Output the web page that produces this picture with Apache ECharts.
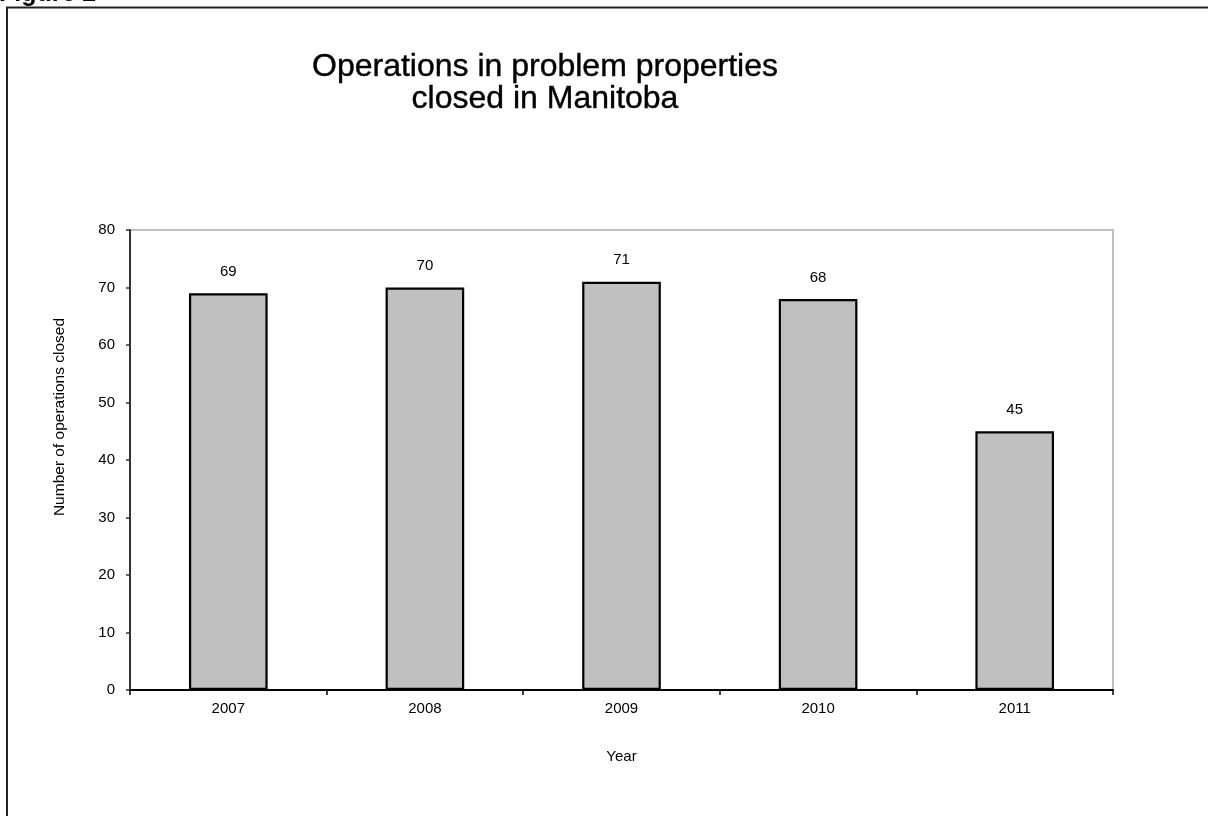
<!DOCTYPE html>
<html>
<head>
<meta charset="utf-8">
<script src="https://cdn.jsdelivr.net/npm/echarts@6/dist/echarts.min.js"></script>
<style>
  html, body { margin: 0; padding: 0; background: #fff; }
  #chart { width: 1208px; height: 816px; }
</style>
</head>
<body>
<div id="chart"></div>
<script>
// Operations in problem properties closed in Manitoba, by year
const years = ['2007', '2008', '2009', '2010', '2011'];
const operationsClosed = [69, 70, 71, 68, 45];
const yTicks = { min: 0, max: 80, interval: 10 };

const FONT = 'Arial, "Liberation Sans", sans-serif';

const chart = echarts.init(document.getElementById('chart'), null, { renderer: 'canvas' });

chart.setOption({
  animation: false,
  backgroundColor: '#ffffff',
  title: {
    text: 'Operations in problem properties\nclosed in Manitoba',
    left: 540,
    top: 46,
    textAlign: 'center',
    textStyle: {
      fontFamily: FONT,
      fontSize: 32,
      fontWeight: 'normal',
      color: '#000',
      lineHeight: 32,
      textBorderColor: '#000',
      textBorderWidth: 0.4
    }
  },
  graphic: [
    // frame around the figure
    {
      type: 'polyline',
      shape: { points: [[7, 816], [7, 7.5], [1208, 7.5]] },
      style: { stroke: '#222', lineWidth: 2, fill: null },
      z: 10
    },
    {
      type: 'text',
      left: -1,
      top: -18,
      style: {
        text: 'Figure 2',
        font: 'bold 25px ' + FONT,
        fill: '#000'
      },
      z: 10
    },
    {
      type: 'text',
      x: 60,
      y: 417,
      rotation: Math.PI / 2,
      style: {
        text: 'Number of operations closed',
        font: '15.5px ' + FONT,
        fill: '#000',
        align: 'center',
        verticalAlign: 'middle'
      }
    }
  ],
  grid: {
    left: 130,
    right: 95,
    top: 230,
    bottom: 126,
    show: true,
    borderColor: '#c0c0c0',
    borderWidth: 2,
    backgroundColor: '#fff',
    containLabel: false
  },
  xAxis: {
    type: 'category',
    data: years,
    name: 'Year',
    nameLocation: 'middle',
    nameGap: 59,
    nameTextStyle: { fontFamily: FONT, fontSize: 15, color: '#000' },
    axisLine: { lineStyle: { color: '#000', width: 2 } },
    axisTick: { show: true, alignWithLabel: false, length: 5, lineStyle: { color: '#000', width: 1.5 } },
    axisLabel: { fontFamily: FONT, fontSize: 15, color: '#000', margin: 11 },
    splitLine: { show: false }
  },
  yAxis: {
    type: 'value',
    min: yTicks.min,
    max: yTicks.max,
    interval: yTicks.interval,
    axisLine: { show: true, lineStyle: { color: '#333', width: 2 } },
    axisTick: { show: true, length: 4, lineStyle: { color: '#333', width: 1.5 } },
    axisLabel: { fontFamily: FONT, fontSize: 15, color: '#000', margin: 15 },
    splitLine: { show: false }
  },
  series: [{
    type: 'bar',
    data: operationsClosed,
    barWidth: '40%',
    itemStyle: { color: '#c0c0c0', borderColor: '#000', borderWidth: 2.2 },
    label: {
      show: true,
      position: 'top',
      distance: 14,
      fontFamily: FONT,
      fontSize: 15,
      color: '#000'
    }
  }]
});
</script>
</body>
</html>
